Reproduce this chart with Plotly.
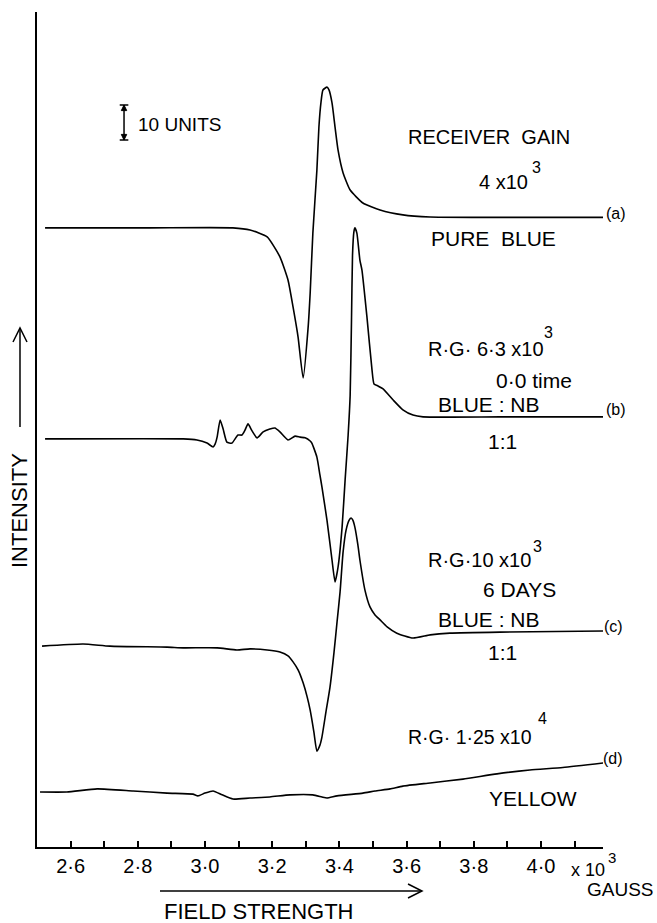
import plotly.graph_objects as go

# ---------------- data (field in gauss x 10^3, intensity in chart units; 10 units = scale bar) -------------
A_FIELD = [2.524, 2.836, 3.083, 3.134, 3.185, 3.223, 3.247, 3.262, 3.277, 3.292, 3.307, 3.313, 3.321,
           3.333, 3.339, 3.345, 3.351, 3.363, 3.369, 3.378, 3.387, 3.396, 3.411, 3.432, 3.470, 3.521,
           3.589, 3.670, 3.818, 4.185]
A_INT = [176.9, 176.9, 176.9, 176.3, 174.3, 168.6, 162.0, 154.3, 145.7, 134.0, 148.6, 158.3, 175.4,
         193.4, 205.7, 212.6, 216.3, 217.1, 216.3, 212.6, 205.7, 199.1, 192.6, 187.7, 184.0, 182.0,
         180.6, 180.0, 179.9, 179.9]

B_FIELD = [2.524, 2.935, 2.976, 3.006, 3.024, 3.030, 3.036, 3.045, 3.054, 3.065, 3.080, 3.098, 3.110,
           3.119, 3.128, 3.140, 3.155, 3.173, 3.193, 3.208, 3.223, 3.247, 3.268, 3.283, 3.298, 3.313,
           3.318, 3.333, 3.342, 3.348, 3.363, 3.378, 3.387, 3.396, 3.408, 3.417, 3.426, 3.432, 3.436,
           3.439, 3.443, 3.446, 3.452, 3.461, 3.467, 3.482, 3.497, 3.503, 3.515, 3.530, 3.560, 3.589,
           3.619, 3.649, 3.878, 4.185]
B_INT = [116.6, 116.6, 116.3, 115.4, 114.3, 115.1, 117.1, 122.0, 119.4, 115.7, 115.4, 117.7, 117.7,
         119.1, 120.9, 118.9, 116.9, 118.6, 119.4, 119.7, 118.6, 116.3, 117.4, 117.1, 116.9, 116.0,
         115.4, 111.4, 106.3, 102.9, 93.4, 82.0, 75.7, 80.0, 91.4, 104.9, 117.7, 129.1, 150.6,
         169.1, 175.7, 176.9, 175.4, 167.7, 164.9, 151.4, 136.3, 132.3, 131.7, 130.9, 127.7, 124.9,
         123.4, 122.9, 122.9, 122.9]

C_FIELD = [2.515, 2.637, 2.717, 2.887, 2.935, 3.036, 3.095, 3.134, 3.185, 3.223, 3.247, 3.262, 3.277,
           3.292, 3.304, 3.313, 3.324, 3.333, 3.342, 3.348, 3.360, 3.372, 3.384, 3.393, 3.402, 3.411,
           3.420, 3.429, 3.435, 3.440, 3.446, 3.455, 3.461, 3.476, 3.491, 3.506, 3.521, 3.542, 3.571,
           3.619, 3.670, 3.729, 3.878, 4.185]
C_INT = [57.4, 58.0, 57.4, 57.1, 56.9, 56.9, 56.3, 56.6, 56.3, 55.7, 54.6, 52.9, 50.6,
         46.9, 42.9, 39.1, 32.9, 27.4, 29.1, 31.4, 38.6, 45.7, 55.7, 64.3, 72.9, 84.3,
         90.6, 93.4, 94.0, 93.4, 91.4, 86.3, 82.0, 73.4, 68.6, 66.3, 64.9, 62.9, 61.1,
         59.7, 60.6, 61.1, 61.4, 61.7]

D_FIELD = [2.509, 2.589, 2.679, 2.786, 2.887, 2.964, 2.979, 3.000, 3.024, 3.051, 3.083, 3.134, 3.193,
           3.253, 3.321, 3.348, 3.363, 3.393, 3.470, 3.506, 3.551, 3.589, 3.670, 3.768, 3.869, 3.967,
           4.065, 4.185]
D_INT = [15.7, 15.7, 16.6, 16.0, 15.4, 15.1, 14.6, 15.4, 16.0, 14.9, 13.7, 14.0, 14.3,
         14.9, 14.9, 14.3, 14.0, 14.6, 15.4, 16.0, 16.6, 17.4, 18.3, 19.4, 20.9, 22.0,
         22.7, 24.0]

TICK_VALS = [2.6, 2.7, 2.8, 2.9, 3.0, 3.1, 3.2, 3.3, 3.4, 3.5, 3.6, 3.7, 3.8, 3.9, 4.0, 4.1]
TICK_TEXT = ["2·6", "", "2·8", "", "3·0", "", "3·2", "", "3·4", "", "3·6", "", "3·8", "", "4·0", ""]

SCALE_UNITS = 10
SCALE_BASE = 202

# ---------------- layout geometry ----------------
W, H = 657, 923
ML, MR, MT, MB = 37, 54, 12, 76
X_RANGE = [2.5, 4.1845]
Y_RANGE = [0, 238.57]
FONT = "Liberation Sans"


def fx(px):
    return (px - ML) / (W - ML - MR)


def fy(py):
    return (H - MB - py) / (H - T_OFF - MB) if False else (H - MB - py) / (H - MT - MB)


fig = go.Figure()
for xs, ys in [(A_FIELD, A_INT), (B_FIELD, B_INT), (C_FIELD, C_INT), (D_FIELD, D_INT)]:
    fig.add_trace(go.Scatter(x=xs, y=ys, mode="lines",
                             line=dict(color="black", width=1.6, shape="spline", smoothing=0.5),
                             hoverinfo="skip", showlegend=False))

# text labels: (text, px, py, size, xanchor)
labels = [
    ("10 UNITS", 137, 124, 19, "left"),
    ("RECEIVER\u00a0\u00a0GAIN", 407, 137, 20, "left"),
    ("4 x10", 478, 182, 20, "left"),
    ("3", 531, 167, 16, "left"),
    ("(a)", 605, 213, 16, "left"),
    ("PURE\u00a0\u00a0BLUE", 430, 238, 21, "left"),
    ("R·G· 6·3 x10", 427, 349, 20, "left"),
    ("3", 543, 332, 16, "left"),
    ("0·0 time", 495, 380, 21, "left"),
    ("BLUE : NB", 437, 404, 21, "left"),
    ("(b)", 605, 409, 16, "left"),
    ("1:1", 487, 441, 21, "left"),
    ("R·G·10 x10", 427, 560, 20, "left"),
    ("3", 532, 546, 16, "left"),
    ("6 DAYS", 482, 589, 21, "left"),
    ("BLUE : NB", 437, 620, 21, "left"),
    ("(c)", 603, 627, 16, "left"),
    ("1:1", 487, 652, 21, "left"),
    ("R·G· 1·25 x10", 407, 737, 19.5, "left"),
    ("4", 537, 718, 16, "left"),
    ("(d)", 602, 758, 16, "left"),
    ("YELLOW", 488, 798, 21, "left"),
    ("x 10", 570, 870, 18, "left"),
    ("3", 607, 857, 15, "left"),
    ("GAUSS", 586, 889, 19, "left"),
    ("FIELD STRENGTH", 163, 911, 22, "left"),
]
annotations = []
for text, px, py, size, xa in labels:
    annotations.append(dict(text=text, x=fx(px), y=fy(py), xref="paper", yref="paper",
                            xanchor=xa, yanchor="middle", showarrow=False, borderpad=0,
                            font=dict(family=FONT, size=size, color="black")))
annotations.append(dict(text="INTENSITY", x=fx(19), y=fy(511), xref="paper", yref="paper",
                        xanchor="center", yanchor="middle", showarrow=False, textangle=-90,
                        font=dict(family=FONT, size=22, color="black")))

shapes = []
line_style = dict(color="black", width=1.5)


def pline(points):
    d = "M " + " L ".join(f"{fx(a):.5f},{fy(b):.5f}" for a, b in points)
    return dict(type="path", path=d, xref="paper", yref="paper", line=line_style)


# intensity arrow (vertical, pointing up)
shapes.append(pline([(20, 427), (20, 328)]))
shapes.append(pline([(13, 342), (20, 328), (27, 342)]))
# field strength arrow (horizontal, pointing right)
shapes.append(pline([(160, 891), (422, 891)]))
shapes.append(pline([(408, 884), (422, 891), (408, 898)]))

# scale bar (10 units) in data coordinates
sx = 2.759
dxc = 0.0128
dxa = 0.008
y0, y1 = SCALE_BASE, SCALE_BASE + SCALE_UNITS
shapes.append(dict(type="line", xref="x", yref="y", x0=sx, x1=sx, y0=y0, y1=y1, line=line_style))
shapes.append(dict(type="line", xref="x", yref="y", x0=sx - dxc, x1=sx + dxc, y0=y1, y1=y1, line=line_style))
shapes.append(dict(type="line", xref="x", yref="y", x0=sx - dxc, x1=sx + dxc, y0=y0, y1=y0, line=line_style))
shapes.append(dict(type="path", xref="x", yref="y",
                   path=f"M {sx - dxa},{y1 - 1.6} L {sx},{y1} L {sx + dxa},{y1 - 1.6} Z",
                   fillcolor="black", line=dict(color="black", width=1)))
shapes.append(dict(type="path", xref="x", yref="y",
                   path=f"M {sx - dxa},{y0 + 1.6} L {sx},{y0} L {sx + dxa},{y0 + 1.6} Z",
                   fillcolor="black", line=dict(color="black", width=1)))

fig.update_layout(
    width=W, height=H,
    margin=dict(l=ML, r=MR, t=MT, b=MB, pad=0),
    paper_bgcolor="white", plot_bgcolor="white",
    showlegend=False,
    annotations=annotations,
    shapes=shapes,
    xaxis=dict(range=X_RANGE, showgrid=False, zeroline=False, showline=True, linecolor="black",
               linewidth=2, ticks="inside", ticklen=6, tickwidth=1.5, tickcolor="black",
               tickvals=TICK_VALS, ticktext=TICK_TEXT,
               tickfont=dict(family=FONT, size=20, color="black")),
    yaxis=dict(range=Y_RANGE, showgrid=False, zeroline=False, showline=True, linecolor="black",
               linewidth=2, ticks="", showticklabels=False),
)

fig.write_html("out.html")
